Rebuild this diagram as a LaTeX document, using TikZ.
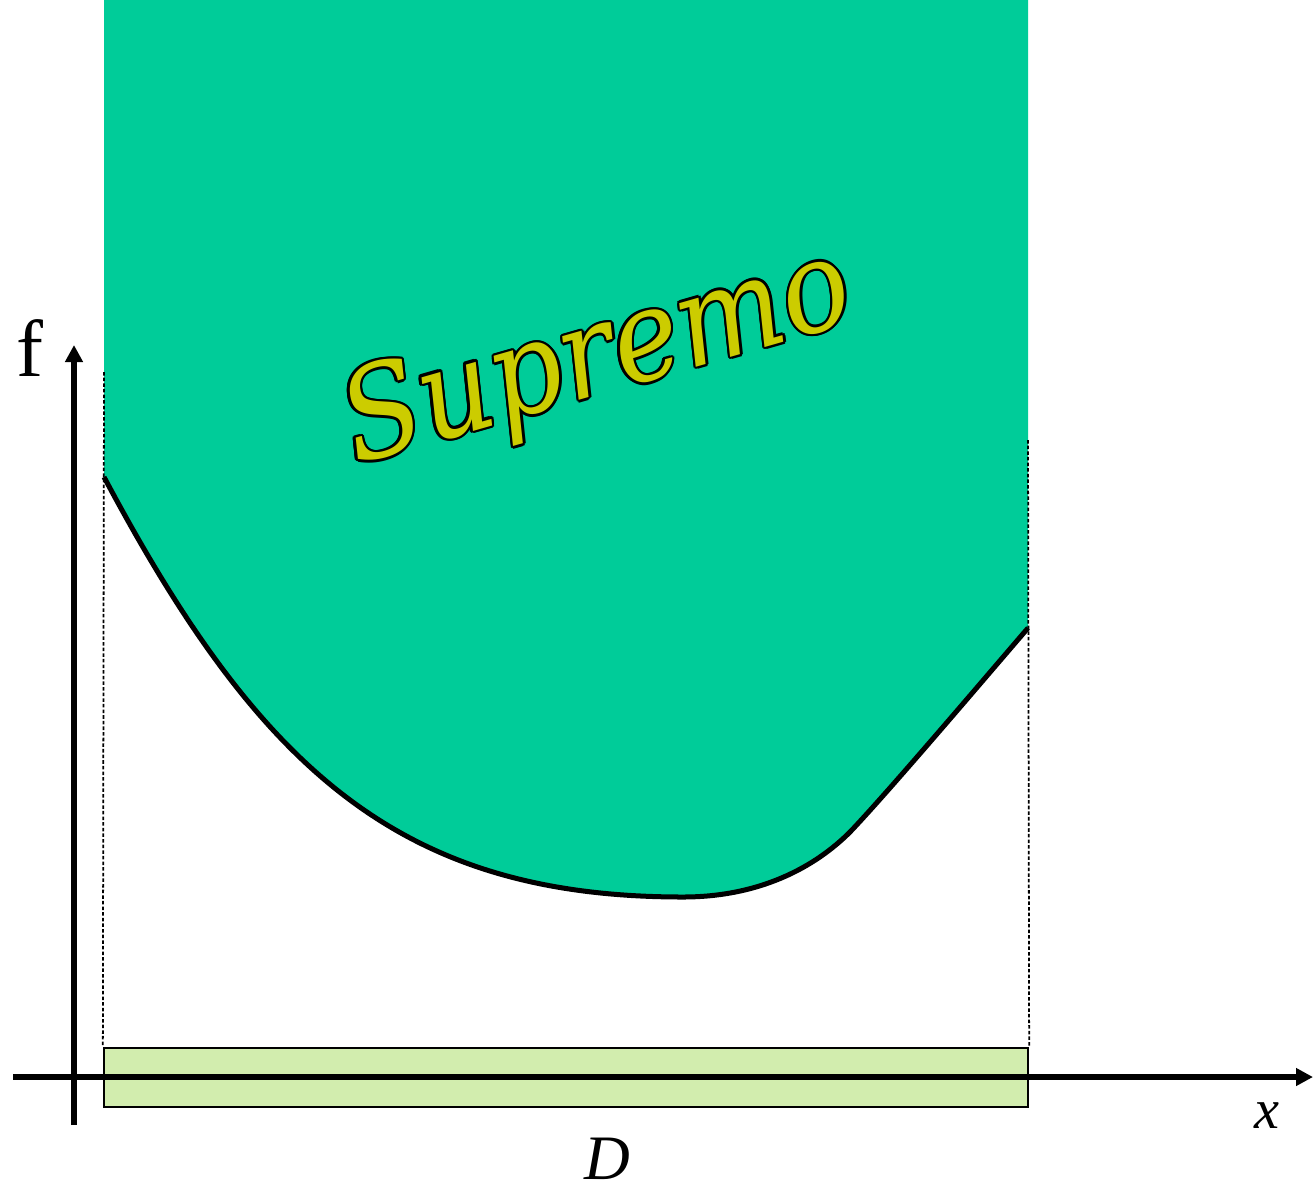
\documentclass[tikz,border=0pt]{standalone}
\usepackage{fontspec}
\setmainfont{Liberation Serif}
\newfontfamily\supfont{DejaVu Serif}
\usetikzlibrary{arrows.meta, calc, positioning}
\definecolor{supgreen}{RGB}{0,204,153}
\definecolor{supyellow}{RGB}{204,204,0}
\definecolor{domgreen}{RGB}{210,237,174}

\begin{document}
\begin{tikzpicture}[
    x=0.01cm, y=-0.01cm,
    axis/.style={-{Triangle[length=0.17cm, width=0.17cm]}, line width=0.06cm},
    curve/.style={line width=0.05cm, line join=round},
    guide/.style={dash pattern=on 1pt off 0.6pt, line width=0.5pt},
    dombox/.style={rectangle, draw, line width=0.5pt, fill=domgreen, minimum width=9.24cm, minimum height=0.59cm, inner sep=0pt},
    suplabel/.style={font=\supfont\itshape\fontsize{36}{42}\selectfont, rotate=16, xscale=0.9, inner sep=0pt},
    axlabel/.style={font=\fontsize{18}{22}\selectfont\itshape, inner sep=0pt}
]
\useasboundingbox (0,0) rectangle (1313,1185);

% region above f
\fill[supgreen] (104,0) -- (104,477) .. controls (260,770) and (400,897) .. (683,897)
    .. controls (760,897) and (815,867) .. (850,832)
    .. controls (890,790) and (990,672) .. (1028,628) -- (1028,0) -- cycle;
\draw[curve] (104,477) .. controls (260,770) and (400,897) .. (683,897)
    .. controls (760,897) and (815,867) .. (850,832)
    .. controls (890,790) and (990,672) .. (1028,628);

% domain D
\node[dombox] (dom) at (566,1077.5) {};
\coordinate (lt) at (104,372);
\coordinate (rt) at (1028,440);
\draw[guide] (lt) -- (dom.north west);
\draw[guide] (rt) -- (dom.north east);

% axes
\coordinate (ybot) at (74,1125);
\coordinate (ytop) at (74,345);
\coordinate (xleft) at (13,1077);
\coordinate (xright) at (1313,1077);
\draw[axis] (ybot) -- (ytop);
\draw[axis] (xleft) -- (xright);

\node[font=\fontsize{23}{27}\selectfont, inner sep=0pt] (flab) at (30,348) {f};
\node[axlabel, font=\fontsize{16}{20}\selectfont\itshape] (xlab) at (1267,1116) {x};
\node[axlabel] (dlab) at (607,1159) {D};

% label with outline
\coordinate (supc) at (598,360);
\foreach \a in {0,30,...,330}
  \node[suplabel, text=black] at ($(supc)+(\a:0.7pt)$) {Supremo};
\node[suplabel, text=supyellow] (sup) at (supc) {Supremo};
\end{tikzpicture}
\end{document}
